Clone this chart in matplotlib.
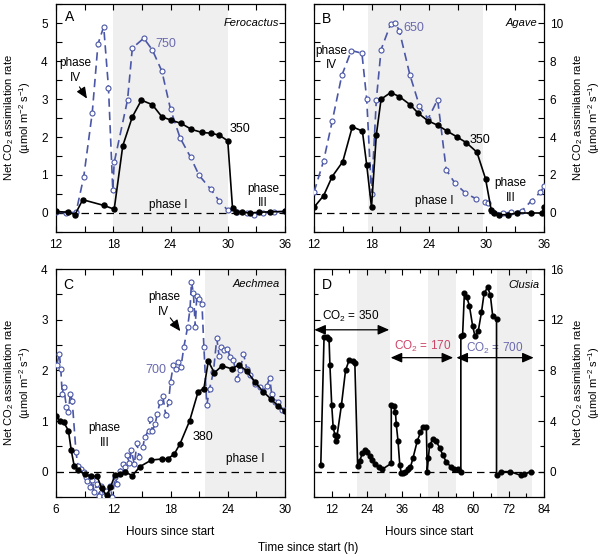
import matplotlib
matplotlib.use('Agg')
import matplotlib.pyplot as plt
from matplotlib.ticker import MultipleLocator

plt.rcParams['font.family'] = ['Liberation Sans', 'DejaVu Sans']
plt.rcParams['font.size'] = 8.5
plt.rcParams['mathtext.default'] = 'regular'

BLUE = '#4a56a6'
BLUE_TXT = '#6a6aae'
RED_TXT = '#cc4466'
SHADE = '#efefef'

# --- panel A: Ferocactus ---
a_x350 = [12, 13.3, 14.0, 14.8, 17.0, 18.1, 19.0, 20.0, 20.95, 22.1, 23.1, 24.1, 25.1, 26.2,
          27.3, 28.2, 29.1, 30.0, 30.5, 30.9, 31.5, 32.3, 33.3, 34.4, 36]
a_y350 = [0.04, 0.02, -0.04, 0.35, 0.2, 0.1, 1.77, 2.53, 2.97, 2.85, 2.53, 2.44, 2.36, 2.2,
          2.12, 2.1, 2.05, 1.9, 0.13, 0.03, 0.02, 0.0, 0.02, 0.03, 0.04]
a_x750 = [12, 13.1, 14.1, 14.9, 15.8, 16.4, 17.0, 17.5, 17.95, 18.1, 19.5, 20.0, 21.2, 22.1,
          23.1, 24.0, 25.0, 26.1, 27.0, 28.2, 29.1, 30.0, 31.0, 32.0, 32.8, 33.7, 34.8, 36]
a_y750 = [0.03, 0.0, 0.02, 0.94, 2.64, 4.45, 4.9, 3.3, 0.61, 1.33, 2.98, 4.34, 4.6, 4.29,
          3.73, 2.73, 1.98, 1.47, 0.99, 0.63, 0.32, 0.07, 0.03, 0.0, -0.04, 0.0, 0.03, 0.04]

# --- panel B: Agave ---
b_x350 = [12, 13.0, 13.9, 15.0, 16.0, 17.05, 17.5, 18.0, 18.5, 19.0, 20.0, 20.9, 22.0, 22.9,
          23.9, 24.9, 25.9, 26.9, 27.9, 29.0, 29.9, 30.5, 30.8, 31.3, 32.2, 33.2, 34.6, 35.8, 36]
b_y350 = [0.3, 0.91, 1.92, 2.7, 4.54, 4.31, 2.53, 0.3, 4.1, 5.99, 6.34, 6.13, 5.71, 5.24,
          4.85, 4.62, 4.31, 4.01, 3.7, 3.2, 1.8, 0.14, 0.0, -0.09, -0.09, 0.0, 0.0, 0.0, 0.3]
b_x650 = [12, 13.0, 13.9, 14.9, 15.9, 17.0, 17.5, 18.0, 18.5, 19.0, 20.0, 20.5, 20.9, 22.0,
          23.0, 23.9, 24.9, 25.8, 26.7, 27.8, 28.9, 29.8, 30.2, 30.7, 31.7, 32.6, 33.7, 34.7,
          35.6, 36]
b_y650 = [1.1, 2.74, 4.83, 7.24, 8.55, 8.41, 5.99, 1.0, 5.93, 8.6, 9.95, 9.98, 9.6, 7.28,
          5.64, 4.95, 5.97, 2.27, 1.57, 1.05, 0.75, 0.56, 0.52, 0.03, 0.0, 0.03, 0.12, 0.65,
          1.08, 1.4]

# --- panel C: Aechmea ---
c_x380 = [6.0, 6.4, 6.8, 7.3, 7.6, 7.9, 8.3, 9.0, 9.7, 10.3, 10.8, 11.3, 11.7, 12.2, 12.7,
          13.2, 14.0, 14.8, 16.0, 17.1, 17.7, 18.4, 19.0, 20.0, 20.9, 21.5, 21.96, 22.6, 23.4,
          24.4, 25.2, 26.0, 26.9, 27.7, 28.5, 29.3, 30.0]
c_y380 = [1.1, 1.0, 0.98, 0.81, 0.42, 0.12, 0.04, -0.05, -0.09, -0.09, -0.33, -0.47, -0.31,
          -0.06, -0.05, 0.0, -0.08, 0.1, 0.23, 0.25, 0.25, 0.35, 0.55, 1.0, 1.58, 1.64, 2.18,
          1.95, 2.09, 2.03, 2.11, 1.98, 1.76, 1.58, 1.44, 1.29, 1.2]
c_x700 = [6.07, 6.35, 6.5, 6.65, 6.8, 7.1, 7.3, 7.5, 7.7, 8.1, 8.3, 8.6, 8.9, 9.1, 9.3, 9.6,
          9.8, 10.0, 10.3, 10.5, 10.7, 11.0, 11.2, 11.5, 11.7, 11.9, 12.2, 12.4, 12.7, 13.0,
          13.2, 13.4, 13.7, 13.9, 14.2, 14.5, 14.7, 15.1, 15.3, 15.7, 15.9, 16.1, 16.4, 16.6,
          16.9, 17.2, 17.5, 17.8, 18.0, 18.3, 18.6, 18.8, 19.1, 19.4, 19.8, 20.05, 20.2, 20.4,
          20.6, 20.75, 21.0, 21.3, 21.5, 21.8, 22.1, 22.5, 22.85, 23.1, 23.3, 23.6, 23.95,
          24.25, 24.6, 24.95, 25.3, 25.65, 26.0, 26.35, 26.9, 27.4, 27.7, 28.1, 28.4, 28.6,
          29.0, 29.3, 29.7, 30.0]
c_y700 = [2.1, 2.33, 2.03, 1.54, 1.67, 1.27, 1.17, 1.54, 1.4, 0.38, 0.12, 0.05, -0.01, -0.11,
          -0.18, -0.31, -0.16, -0.41, -0.24, -0.48, -0.28, -0.48, -0.38, -0.5, -0.28, -0.5,
          -0.11, -0.24, 0.02, 0.15, 0.09, 0.32, 0.18, 0.42, 0.15, 0.56, 0.28, 0.48, 0.68, 0.81,
          1.04, 0.81, 0.94, 1.14, 1.37, 1.49, 1.12, 1.37, 1.77, 2.1, 2.02, 2.17, 2.07, 2.46,
          2.86, 3.22, 3.75, 3.52, 2.86, 3.47, 3.4, 3.3, 2.46, 1.31, 1.64, 1.97, 2.63, 2.28,
          2.46, 2.4, 2.43, 2.26, 2.2, 1.83, 2.0, 2.33, 2.03, 1.9, 1.74, 1.67, 1.6, 1.7, 1.85,
          1.54, 1.37, 1.37, 1.22, 1.21]

# --- panel D: Clusia ---
d_x = [8.3, 9.4, 10.3, 11.1, 11.4, 12.0, 12.5, 13.1, 13.4, 13.8, 15.3, 16.7, 17.9, 19.1,
       19.85, 20.8, 21.5, 22.4, 23.2, 24.0, 24.9, 25.8, 26.6, 27.9, 29.2, 32.2, 32.2, 33.0,
       33.6, 33.9, 34.5, 35.1, 35.6, 36.2, 37.0, 37.9, 38.7, 39.6, 41.0, 42.1, 42.9, 44.1,
       44.4, 44.8, 45.2, 46.3, 47.4, 48.6, 49.7, 50.8, 52.3, 53.6, 54.75, 55.8, 55.8, 56.4,
       57.0, 57.8, 58.7, 59.8, 60.6, 61.7, 62.8, 63.7, 64.9, 65.8, 66.6, 67.9, 67.9, 69.4,
       72.6, 76.2, 77.3, 79.6]
d_y = [0.5, 10.6, 10.6, 10.5, 8.4, 5.3, 3.5, 2.9, 2.4, 2.8, 5.25, 8.0, 8.8, 8.7, 8.6, 0.45,
       0.85, 1.45, 1.7, 1.55, 1.2, 0.9, 0.6, 0.35, 0.2, 0.65, 5.3, 5.2, 4.75, 3.75, 2.4, 0.5,
       -0.1, -0.1, 0.0, 0.2, 0.35, 1.1, 2.4, 3.1, 3.55, 3.5, 0.0, 1.1, 2.1, 2.55, 2.4, 1.9,
       1.3, 0.8, 0.4, 0.25, 0.2, 0.0, 10.7, 10.8, 14.1, 13.8, 13.1, 11.5, 10.7, 11.1, 12.6,
       14.1, 14.55, 13.95, 12.3, 12.05, -0.25, 0.0, 0.0, -0.3, -0.2, 0.0]

ylab = 'Net CO$_2$ assimilation rate\n(µmol m$^{-2}$ s$^{-1}$)'

fig = plt.figure(figsize=(6.04, 5.57), dpi=100)
W, H = 604.0, 557.0


def make_ax(l, t, r, b):
    return fig.add_axes([l / W, 1 - b / H, (r - l) / W, (b - t) / H])


axA = make_ax(56, 4, 285, 232)
axB = make_ax(314, 4, 544, 232)
axC = make_ax(56, 269, 285, 497)
axD = make_ax(314, 269, 544, 497)


def style(ax, xmaj, xmin, ymaj, ymin, right=False, minlen=4.5):
    ax.xaxis.set_major_locator(MultipleLocator(xmaj))
    ax.xaxis.set_minor_locator(MultipleLocator(xmin))
    ax.yaxis.set_major_locator(MultipleLocator(ymaj))
    ax.yaxis.set_minor_locator(MultipleLocator(ymin))
    ax.tick_params(which='both', direction='in', top=True, right=True, width=0.8)
    ax.tick_params(which='major', length=4.5)
    ax.tick_params(which='minor', length=minlen)
    ax.tick_params(axis='x', which='major', pad=5)
    if right:
        ax.yaxis.tick_right()
        ax.tick_params(which='both', left=True)
        ax.tick_params(axis='y', which='major', pad=4)
        ax.yaxis.set_label_position('right')
        ax.yaxis.set_label_coords(1.185, 0.5)
    else:
        ax.tick_params(axis='y', which='major', pad=6)
        ax.yaxis.set_label_coords(-0.168, 0.5)
    for s in ax.spines.values():
        s.set_linewidth(0.9)
    ax.axhline(0, color='black', lw=0.9, dashes=(6, 4), zorder=1)


def plot_pair(ax, x1, y1, x2, y2):
    ax.plot(x2, y2, color=BLUE, lw=1.2, dashes=(5, 3), marker='o', ms=3.6, mfc='white',
            mec=BLUE, mew=0.8, zorder=3)
    ax.plot(x1, y1, color='black', lw=1.2, marker='o', ms=3.6, zorder=4)


def set_ylab(ax):
    ax.set_ylabel(ylab, fontsize=8, linespacing=1.15, va='center', ha='center')


# Panel A
axA.axvspan(18, 30, color=SHADE, lw=0, zorder=0)
plot_pair(axA, a_x350, a_y350, a_x750, a_y750)
axA.set_xlim(12, 36)
axA.set_ylim(-0.5, 5.5)
style(axA, 6, 3, 1, 0.5)
set_ylab(axA)
axA.text(12.9, 5.15, 'A', fontsize=10, va='center')
axA.text(35.4, 5.0, 'Ferocactus', style='italic', ha='right', va='center', fontsize=8)
axA.text(22.4, 4.38, '750', color=BLUE_TXT, fontsize=9)
axA.text(30.2, 2.12, '350', fontsize=9)
axA.text(14.0, 3.75, 'phase\nIV', ha='center', va='center', linespacing=1.3)
axA.annotate('', xy=(15.4, 2.95), xytext=(14.3, 3.38),
             arrowprops=dict(arrowstyle='-|>,head_length=0.8,head_width=0.35', color='black', lw=0.8))
axA.text(23.8, 0.22, 'phase I', ha='center', va='center')
axA.text(33.7, 0.45, 'phase\nIII', ha='center', va='center', linespacing=1.3)

# Panel B
axB.axvspan(17.6, 29.6, color=SHADE, lw=0, zorder=0)
plot_pair(axB, b_x350, b_y350, b_x650, b_y650)
axB.set_xlim(12, 36)
axB.set_ylim(-1, 11)
style(axB, 6, 3, 2, 1, right=True)
set_ylab(axB)
axB.text(12.8, 10.2, 'B', fontsize=10, va='center')
axB.text(35.3, 10.0, 'Agave', style='italic', ha='right', va='center', fontsize=8)
axB.text(21.3, 9.6, '650', color=BLUE_TXT, fontsize=9)
axB.text(28.2, 3.7, '350', fontsize=9)
axB.text(13.8, 8.15, 'phase\nIV', ha='center', va='center', linespacing=1.3)
axB.text(24.5, 0.65, 'phase I', ha='center', va='center')
axB.text(32.5, 1.2, 'phase\nIII', ha='center', va='center', linespacing=1.3)

# Panel C
axC.axvspan(21.6, 30, color=SHADE, lw=0, zorder=0)
plot_pair(axC, c_x380, c_y380, c_x700, c_y700)
axC.set_xlim(6, 30)
axC.set_ylim(-0.5, 4)
style(axC, 6, 3, 1, 0.5)
set_ylab(axC)
axC.set_xlabel('Hours since start', labelpad=7)
axC.text(6.8, 3.68, 'C', fontsize=10, va='center')
axC.text(29.5, 3.7, 'Aechmea', style='italic', ha='right', va='center', fontsize=8)
axC.text(16.5, 2.0, '700', color=BLUE_TXT, fontsize=9, ha='center', va='center')
axC.text(20.3, 0.62, '380', fontsize=9)
axC.text(17.3, 3.3, 'phase\nIV', ha='center', va='center', linespacing=1.3)
axC.annotate('', xy=(19.2, 2.73), xytext=(17.8, 3.08),
             arrowprops=dict(arrowstyle='-|>,head_length=0.8,head_width=0.35', color='black', lw=0.8))
axC.text(11.1, 0.72, 'phase\nIII', ha='center', va='center', linespacing=1.3)
axC.text(25.8, 0.25, 'phase I', ha='center', va='center')

# Panel D
for s0, s1 in [(20.6, 31.7), (44.8, 54.2), (68.0, 80.0)]:
    axD.axvspan(s0, s1, color=SHADE, lw=0, zorder=0)
axD.plot(d_x, d_y, color='black', lw=1.2, marker='o', ms=3.4, zorder=4)
axD.set_xlim(6, 84)
axD.set_ylim(-2, 16)
style(axD, 12, 6, 4, 2, right=True, minlen=3)
set_ylab(axD)
axD.set_xlabel('Hours since start', labelpad=7)
axD.text(8.8, 14.75, 'D', fontsize=10, va='center')
axD.text(82.5, 14.75, 'Clusia', style='italic', ha='right', va='center', fontsize=8)
arr = dict(arrowstyle='<|-|>,head_length=0.8,head_width=0.35', color='black', lw=0.9,
           shrinkA=0, shrinkB=0)
axD.annotate('', xy=(6.1, 11.2), xytext=(31.5, 11.2), arrowprops=arr)
axD.annotate('', xy=(32.0, 9.0), xytext=(53.2, 9.0), arrowprops=arr)
axD.annotate('', xy=(54.3, 9.0), xytext=(80.5, 9.0), arrowprops=arr)
axD.text(18.5, 12.25, 'CO$_2$ = 350', ha='center', va='center')
axD.text(42.8, 9.85, 'CO$_2$ = 170', ha='center', va='center', color=RED_TXT)
axD.text(67.2, 9.7, 'CO$_2$ = 700', ha='center', va='center', color=BLUE_TXT)

fig.text(0.51, 0.006, 'Time since start (h)', ha='center', va='bottom', fontsize=8.5)

fig.savefig('out.png', dpi=100)
